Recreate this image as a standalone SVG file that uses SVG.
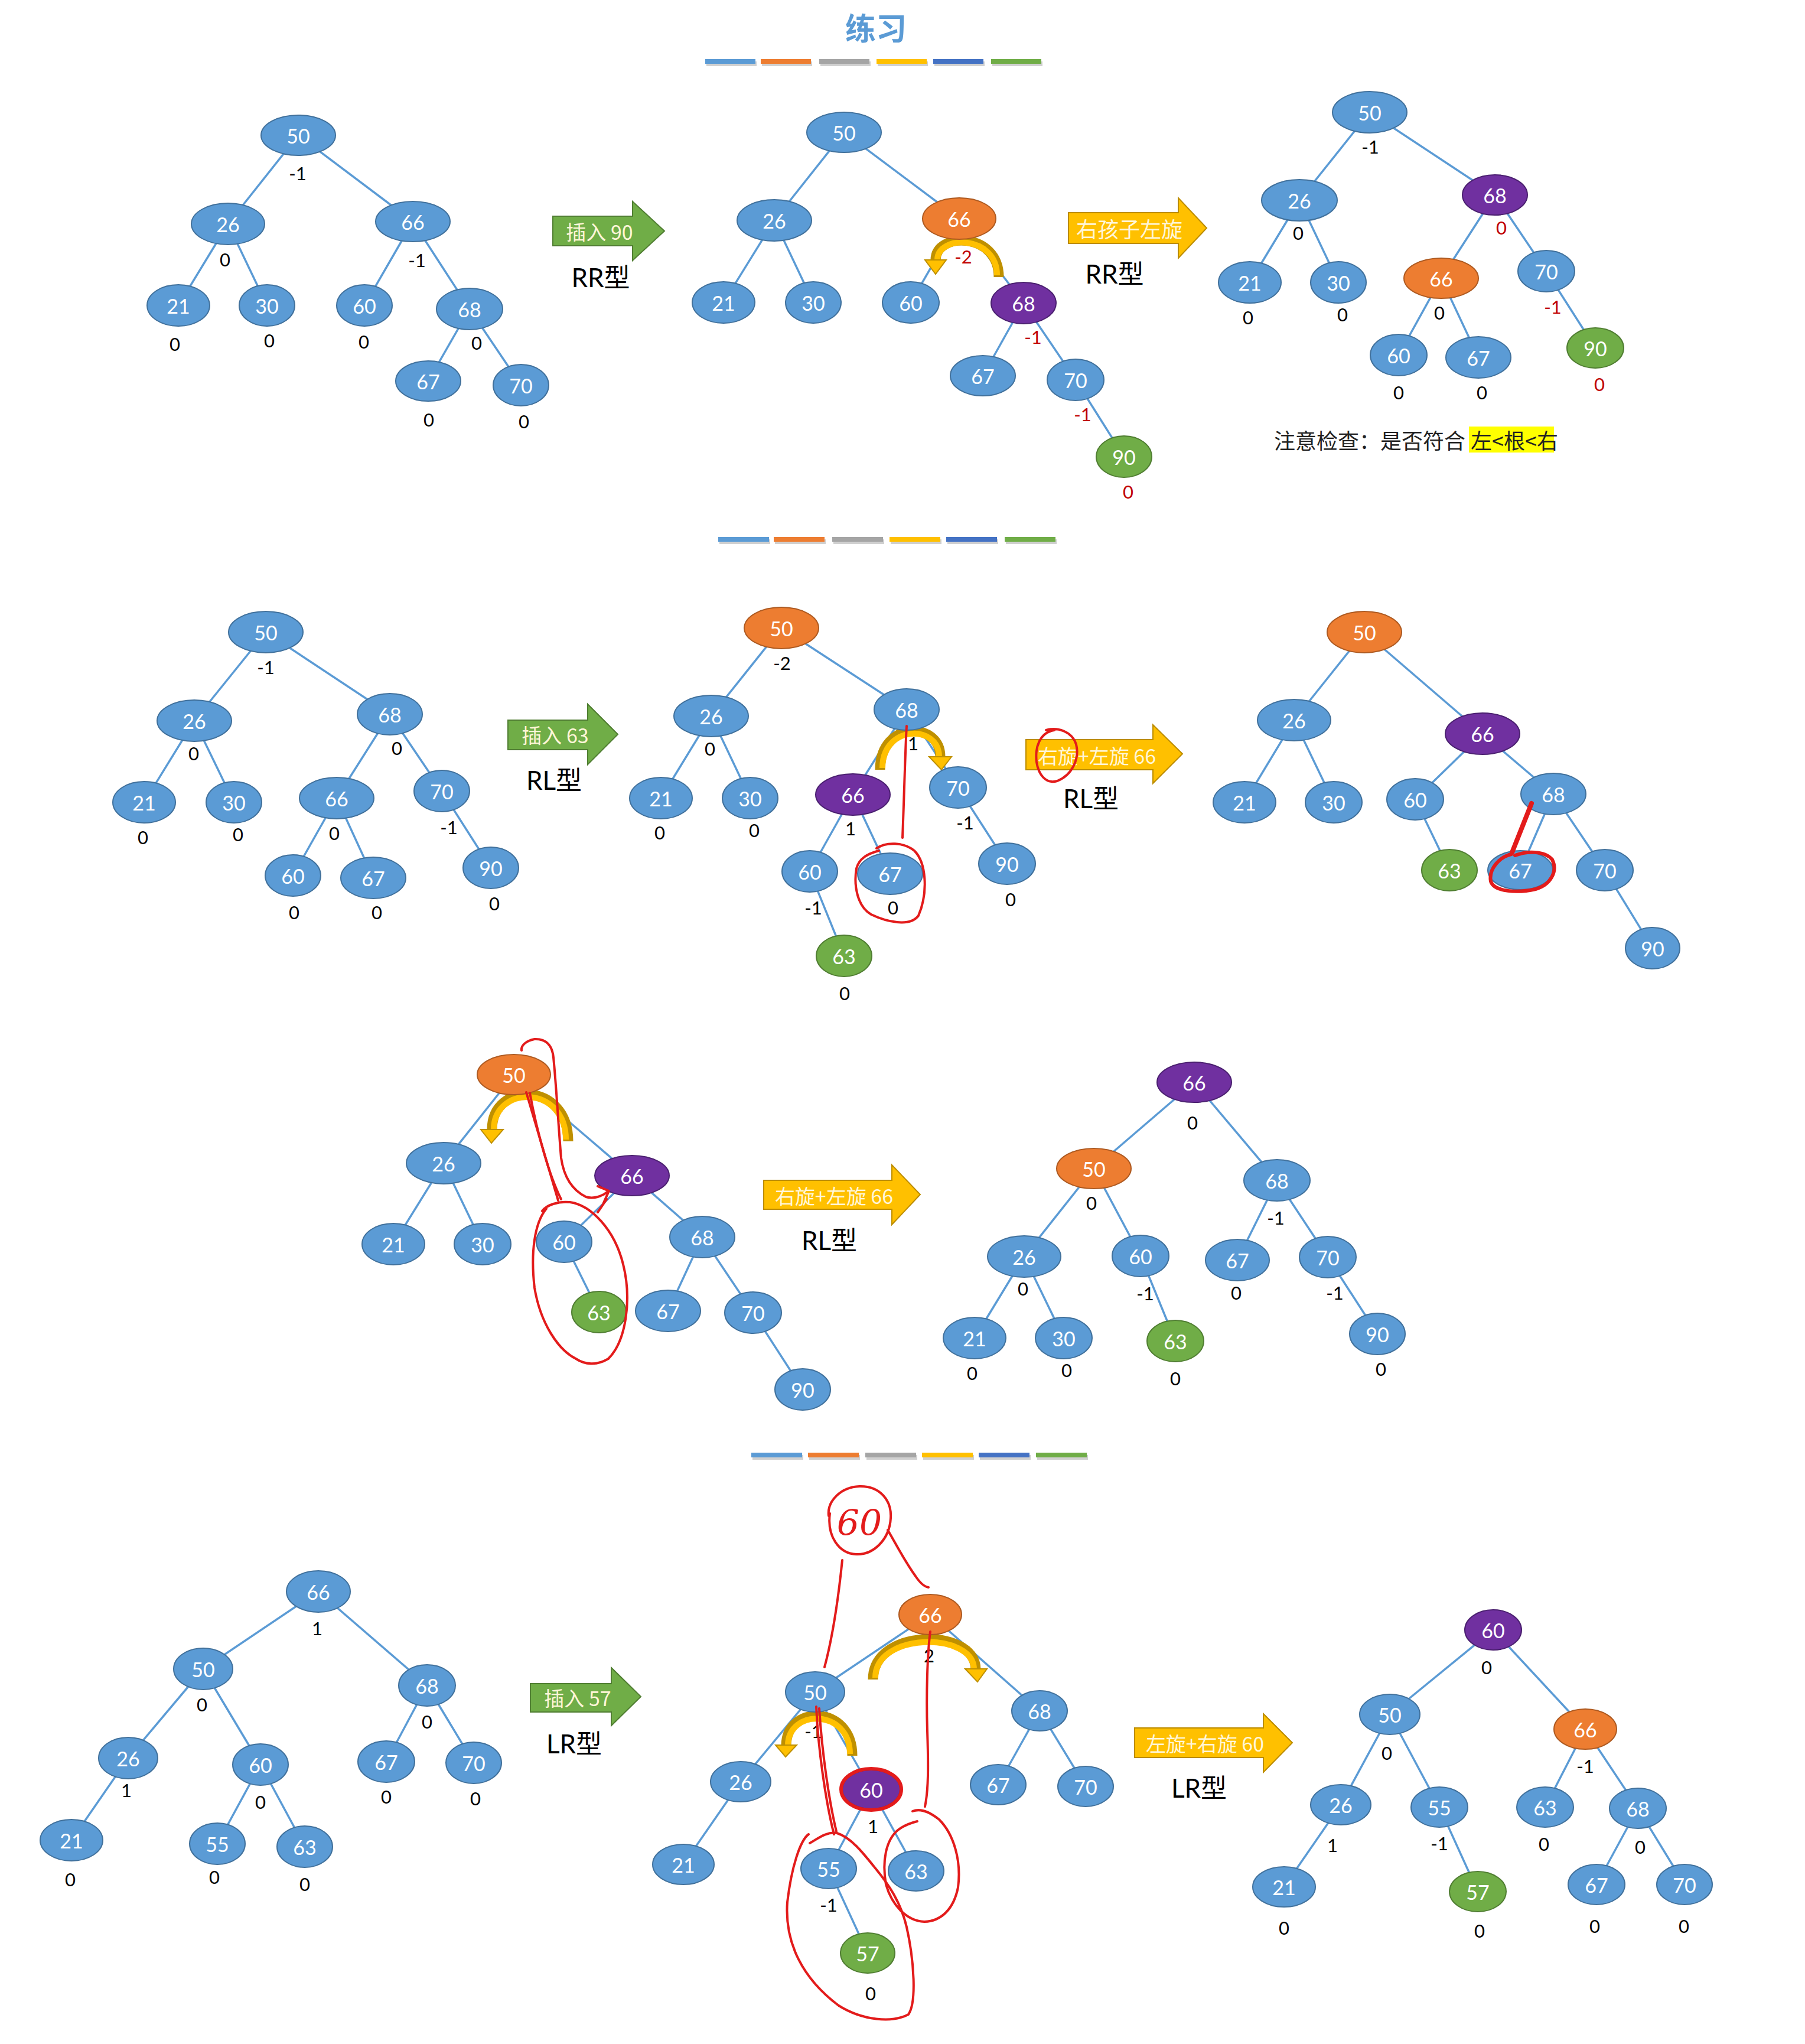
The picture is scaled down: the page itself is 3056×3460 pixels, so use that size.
<svg xmlns="http://www.w3.org/2000/svg" width="3056" height="3460" viewBox="0 0 3056 3460">
<style>
text{font-family:Lato,"Liberation Sans","Noto Sans CJK SC",sans-serif;dominant-baseline:central;text-anchor:middle}
ellipse.b{fill:#5b9bd5;stroke:#41719c;stroke-width:2}
ellipse.o{fill:#ed7d31;stroke:#ae5a21;stroke-width:2}
ellipse.p{fill:#7030a0;stroke:#4b2070;stroke-width:2}
ellipse.g{fill:#70ad47;stroke:#507e32;stroke-width:2}
.nl{fill:#fff;font-size:34px}
.f{fill:#000;font-size:31px}
.r{fill:#c00000}
#edges line{stroke:#5b9bd5;stroke-width:3.5}
.ga{fill:#70ad47;stroke:#507e32;stroke-width:2}
.ya{fill:#ffc000;stroke:#bc8c00;stroke-width:2}
.at{fill:#fff6d8;font-size:34px;font-family:"Noto Sans CJK SC",Lato,sans-serif}
.ty{fill:#000;font-size:44px;font-family:Lato,"Noto Sans CJK SC",sans-serif}
.cd{fill:none;stroke:#bf9000;stroke-width:17}
.cl{fill:none;stroke:#ffc000;stroke-width:10}
.ch{fill:#ffc000;stroke:#bf9000;stroke-width:2}
.red{fill:none;stroke:#e31b1b;stroke-width:4;stroke-linecap:round;stroke-linejoin:round}
</style>
<rect width="3056" height="3460" fill="#fff"/>
<g id="title">
<text x="1483" y="45" style="font-size:52px;fill:#5b9bd5;font-weight:bold;font-family:'Noto Sans CJK SC',sans-serif">练习</text>
</g>
<g id="bars">
<g fill="#d0d0d0"><rect x="1196" y="104" width="85" height="8"/><rect x="1290" y="104" width="85" height="8"/><rect x="1389" y="104" width="85" height="8"/><rect x="1486" y="104" width="85" height="8"/><rect x="1582" y="104" width="85" height="8"/><rect x="1680" y="104" width="85" height="8"/></g>
<rect x="1194" y="100" width="85" height="8" fill="#5b9bd5"/><rect x="1288" y="100" width="85" height="8" fill="#ed7d31"/><rect x="1387" y="100" width="85" height="8" fill="#a5a5a5"/><rect x="1484" y="100" width="85" height="8" fill="#ffc000"/><rect x="1580" y="100" width="85" height="8" fill="#4472c4"/><rect x="1678" y="100" width="85" height="8" fill="#70ad47"/>
<g fill="#d0d0d0"><rect x="1218" y="913" width="86" height="8"/><rect x="1312" y="913" width="86" height="8"/><rect x="1411" y="913" width="86" height="8"/><rect x="1508" y="913" width="86" height="8"/><rect x="1604" y="913" width="86" height="8"/><rect x="1703" y="913" width="86" height="8"/></g>
<rect x="1216" y="909" width="86" height="8" fill="#5b9bd5"/><rect x="1310" y="909" width="86" height="8" fill="#ed7d31"/><rect x="1409" y="909" width="86" height="8" fill="#a5a5a5"/><rect x="1506" y="909" width="86" height="8" fill="#ffc000"/><rect x="1602" y="909" width="86" height="8" fill="#4472c4"/><rect x="1701" y="909" width="86" height="8" fill="#70ad47"/>
<g fill="#d0d0d0"><rect x="1274" y="2463" width="86" height="8"/><rect x="1370" y="2463" width="86" height="8"/><rect x="1467" y="2463" width="86" height="8"/><rect x="1563" y="2463" width="86" height="8"/><rect x="1659" y="2463" width="86" height="8"/><rect x="1756" y="2463" width="86" height="8"/></g>
<rect x="1272" y="2459" width="86" height="8" fill="#5b9bd5"/><rect x="1368" y="2459" width="86" height="8" fill="#ed7d31"/><rect x="1465" y="2459" width="86" height="8" fill="#a5a5a5"/><rect x="1561" y="2459" width="86" height="8" fill="#ffc000"/><rect x="1657" y="2459" width="86" height="8" fill="#4472c4"/><rect x="1754" y="2459" width="86" height="8" fill="#70ad47"/>
</g>
<g id="edges">
<line x1="505" y1="229" x2="386" y2="379"/><line x1="505" y1="229" x2="699" y2="375"/><line x1="386" y1="379" x2="302" y2="517"/><line x1="386" y1="379" x2="452" y2="517"/><line x1="699" y1="375" x2="617" y2="517"/><line x1="699" y1="375" x2="795" y2="523"/><line x1="795" y1="523" x2="725" y2="645"/><line x1="795" y1="523" x2="882" y2="652"/>
<line x1="1429" y1="224" x2="1311" y2="373"/><line x1="1429" y1="224" x2="1624" y2="370"/><line x1="1311" y1="373" x2="1225" y2="512"/><line x1="1311" y1="373" x2="1377" y2="512"/><line x1="1624" y1="370" x2="1542" y2="512"/><line x1="1624" y1="370" x2="1733" y2="513"/><line x1="1733" y1="513" x2="1664" y2="636"/><line x1="1733" y1="513" x2="1821" y2="643"/><line x1="1821" y1="643" x2="1903" y2="773"/>
<line x1="2319" y1="190" x2="2200" y2="339"/><line x1="2319" y1="190" x2="2531" y2="330"/><line x1="2200" y1="339" x2="2116" y2="478"/><line x1="2200" y1="339" x2="2266" y2="478"/><line x1="2531" y1="330" x2="2440" y2="471"/><line x1="2531" y1="330" x2="2618" y2="459"/><line x1="2440" y1="471" x2="2368" y2="601"/><line x1="2440" y1="471" x2="2503" y2="605"/><line x1="2618" y1="459" x2="2701" y2="589"/>
<line x1="450" y1="1070" x2="329" y2="1220"/><line x1="450" y1="1070" x2="660" y2="1209"/><line x1="329" y1="1220" x2="244" y2="1358"/><line x1="329" y1="1220" x2="396" y2="1358"/><line x1="660" y1="1209" x2="570" y2="1351"/><line x1="660" y1="1209" x2="748" y2="1339"/><line x1="570" y1="1351" x2="496" y2="1482"/><line x1="570" y1="1351" x2="632" y2="1486"/><line x1="748" y1="1339" x2="831" y2="1469"/>
<line x1="1323" y1="1063" x2="1204" y2="1212"/><line x1="1323" y1="1063" x2="1535" y2="1201"/><line x1="1204" y1="1212" x2="1119" y2="1351"/><line x1="1204" y1="1212" x2="1270" y2="1351"/><line x1="1535" y1="1201" x2="1444" y2="1345"/><line x1="1535" y1="1201" x2="1622" y2="1333"/><line x1="1444" y1="1345" x2="1371" y2="1475"/><line x1="1444" y1="1345" x2="1507" y2="1479"/><line x1="1622" y1="1333" x2="1705" y2="1462"/><line x1="1371" y1="1475" x2="1429" y2="1618"/>
<line x1="2310" y1="1070" x2="2191" y2="1219"/><line x1="2310" y1="1070" x2="2510" y2="1242"/><line x1="2191" y1="1219" x2="2107" y2="1358"/><line x1="2191" y1="1219" x2="2258" y2="1358"/><line x1="2510" y1="1242" x2="2396" y2="1353"/><line x1="2510" y1="1242" x2="2630" y2="1344"/><line x1="2396" y1="1353" x2="2454" y2="1473"/><line x1="2630" y1="1344" x2="2574" y2="1473"/><line x1="2630" y1="1344" x2="2717" y2="1473"/><line x1="2717" y1="1473" x2="2798" y2="1605"/>
<line x1="870" y1="1819" x2="751" y2="1969"/><line x1="870" y1="1819" x2="1070" y2="1990"/><line x1="751" y1="1969" x2="666" y2="2106"/><line x1="751" y1="1969" x2="817" y2="2106"/><line x1="1070" y1="1990" x2="955" y2="2102"/><line x1="1070" y1="1990" x2="1189" y2="2094"/><line x1="955" y1="2102" x2="1014" y2="2221"/><line x1="1189" y1="2094" x2="1131" y2="2219"/><line x1="1189" y1="2094" x2="1275" y2="2222"/><line x1="1275" y1="2222" x2="1359" y2="2352"/>
<line x1="2022" y1="1832" x2="1852" y2="1978"/><line x1="2022" y1="1832" x2="2162" y2="1998"/><line x1="1852" y1="1978" x2="1734" y2="2127"/><line x1="1852" y1="1978" x2="1931" y2="2126"/><line x1="1734" y1="2127" x2="1650" y2="2265"/><line x1="1734" y1="2127" x2="1801" y2="2265"/><line x1="1931" y1="2126" x2="1990" y2="2270"/><line x1="2162" y1="1998" x2="2095" y2="2133"/><line x1="2162" y1="1998" x2="2248" y2="2128"/><line x1="2248" y1="2128" x2="2332" y2="2258"/>
<line x1="539" y1="2694" x2="344" y2="2825"/><line x1="539" y1="2694" x2="723" y2="2853"/><line x1="344" y1="2825" x2="217" y2="2976"/><line x1="344" y1="2825" x2="441" y2="2987"/><line x1="217" y1="2976" x2="121" y2="3115"/><line x1="441" y1="2987" x2="368" y2="3121"/><line x1="441" y1="2987" x2="516" y2="3126"/><line x1="723" y1="2853" x2="654" y2="2982"/><line x1="723" y1="2853" x2="802" y2="2984"/>
<line x1="1575" y1="2733" x2="1380" y2="2864"/><line x1="1575" y1="2733" x2="1760" y2="2896"/><line x1="1380" y1="2864" x2="1254" y2="3016"/><line x1="1380" y1="2864" x2="1475" y2="3029"/><line x1="1254" y1="3016" x2="1157" y2="3156"/><line x1="1475" y1="3029" x2="1403" y2="3163"/><line x1="1475" y1="3029" x2="1551" y2="3167"/><line x1="1403" y1="3163" x2="1469" y2="3306"/><line x1="1760" y1="2896" x2="1690" y2="3021"/><line x1="1760" y1="2896" x2="1838" y2="3024"/>
<line x1="2528" y1="2759" x2="2353" y2="2902"/><line x1="2528" y1="2759" x2="2684" y2="2927"/><line x1="2353" y1="2902" x2="2270" y2="3055"/><line x1="2353" y1="2902" x2="2437" y2="3059"/><line x1="2270" y1="3055" x2="2174" y2="3194"/><line x1="2437" y1="3059" x2="2502" y2="3202"/><line x1="2684" y1="2927" x2="2616" y2="3059"/><line x1="2684" y1="2927" x2="2773" y2="3061"/><line x1="2773" y1="3061" x2="2703" y2="3190"/><line x1="2773" y1="3061" x2="2852" y2="3190"/>
</g>
<g id="rotation-arrows">
<path class="cd" d="M1691,469 C1691,392 1584,392 1584,440"/><path class="cl" d="M1688,466 C1688,397 1587,397 1587,440"/><polygon class="ch" points="1566,440 1602,440 1584,464"/>
<path class="cd" d="M1490,1303 C1490,1220 1592,1220 1592,1281"/><path class="cl" d="M1494,1300 C1494,1226 1590,1226 1590,1281"/><polygon class="ch" points="1573,1281 1611,1281 1594,1303"/>
<path class="cd" d="M962,1932 C962,1830 833,1830 833,1912"/><path class="cl" d="M958,1929 C958,1836 836,1836 836,1912"/><polygon class="ch" points="814,1912 852,1912 832,1935"/>
<path class="cd" d="M1478,2843 C1478,2755 1652,2755 1652,2826"/><path class="cl" d="M1482,2840 C1482,2762 1649,2762 1649,2826"/><polygon class="ch" points="1634,2825 1671,2825 1655,2847"/>
<path class="cd" d="M1443,2972 C1443,2885 1331,2885 1331,2955"/><path class="cl" d="M1439,2969 C1439,2892 1334,2892 1334,2955"/><polygon class="ch" points="1313,2954 1349,2954 1330,2974"/>
</g>
<g id="t1">
<g id="t1-50"><ellipse class="b" cx="505" cy="229" rx="63" ry="34"/><text class="nl" x="505" y="229">50</text></g>
<g id="t1-26"><ellipse class="b" cx="386" cy="379" rx="62" ry="35"/><text class="nl" x="386" y="379">26</text></g>
<g id="t1-66"><ellipse class="b" cx="699" cy="375" rx="63" ry="34"/><text class="nl" x="699" y="375">66</text></g>
<g id="t1-21"><ellipse class="b" cx="302" cy="517" rx="53" ry="35"/><text class="nl" x="302" y="517">21</text></g>
<g id="t1-30"><ellipse class="b" cx="452" cy="517" rx="47" ry="35"/><text class="nl" x="452" y="517">30</text></g>
<g id="t1-60"><ellipse class="b" cx="617" cy="517" rx="47" ry="35"/><text class="nl" x="617" y="517">60</text></g>
<g id="t1-68"><ellipse class="b" cx="795" cy="523" rx="56" ry="35"/><text class="nl" x="795" y="523">68</text></g>
<g id="t1-67"><ellipse class="b" cx="725" cy="645" rx="55" ry="34"/><text class="nl" x="725" y="645">67</text></g>
<g id="t1-70"><ellipse class="b" cx="882" cy="652" rx="47" ry="35"/><text class="nl" x="882" y="652">70</text></g>
<text class="f" x="504" y="293">-1</text><text class="f" x="381" y="439">0</text><text class="f" x="706" y="440">-1</text><text class="f" x="296" y="582">0</text><text class="f" x="456" y="576">0</text><text class="f" x="616" y="578">0</text><text class="f" x="807" y="580">0</text><text class="f" x="726" y="710">0</text><text class="f" x="887" y="713">0</text>
</g>
<g id="t2">
<g id="t2-50"><ellipse class="b" cx="1429" cy="224" rx="63" ry="34"/><text class="nl" x="1429" y="224">50</text></g>
<g id="t2-26"><ellipse class="b" cx="1311" cy="373" rx="63" ry="35"/><text class="nl" x="1311" y="373">26</text></g>
<g id="t2-66"><ellipse class="o" cx="1624" cy="370" rx="62" ry="35"/><text class="nl" x="1624" y="370">66</text></g>
<g id="t2-21"><ellipse class="b" cx="1225" cy="512" rx="53" ry="35"/><text class="nl" x="1225" y="512">21</text></g>
<g id="t2-30"><ellipse class="b" cx="1377" cy="512" rx="47" ry="35"/><text class="nl" x="1377" y="512">30</text></g>
<g id="t2-60"><ellipse class="b" cx="1542" cy="512" rx="48" ry="35"/><text class="nl" x="1542" y="512">60</text></g>
<g id="t2-68"><ellipse class="p" cx="1733" cy="513" rx="55" ry="35"/><text class="nl" x="1733" y="513">68</text></g>
<g id="t2-67"><ellipse class="b" cx="1664" cy="636" rx="55" ry="34"/><text class="nl" x="1664" y="636">67</text></g>
<g id="t2-70"><ellipse class="b" cx="1821" cy="643" rx="48" ry="35"/><text class="nl" x="1821" y="643">70</text></g>
<g id="t2-90"><ellipse class="g" cx="1903" cy="773" rx="47" ry="35"/><text class="nl" x="1903" y="773">90</text></g>
<text class="f r" x="1631" y="434">-2</text><text class="f r" x="1749" y="570">-1</text><text class="f r" x="1833" y="701">-1</text><text class="f r" x="1910" y="832">0</text>
</g>
<g id="t3">
<g id="t3-50"><ellipse class="b" cx="2319" cy="190" rx="63" ry="35"/><text class="nl" x="2319" y="190">50</text></g>
<g id="t3-26"><ellipse class="b" cx="2200" cy="339" rx="64" ry="35"/><text class="nl" x="2200" y="339">26</text></g>
<g id="t3-68"><ellipse class="p" cx="2531" cy="330" rx="55" ry="34"/><text class="nl" x="2531" y="330">68</text></g>
<g id="t3-21"><ellipse class="b" cx="2116" cy="478" rx="53" ry="35"/><text class="nl" x="2116" y="478">21</text></g>
<g id="t3-30"><ellipse class="b" cx="2266" cy="478" rx="47" ry="35"/><text class="nl" x="2266" y="478">30</text></g>
<g id="t3-66"><ellipse class="o" cx="2440" cy="471" rx="63" ry="34"/><text class="nl" x="2440" y="471">66</text></g>
<g id="t3-70"><ellipse class="b" cx="2618" cy="459" rx="48" ry="35"/><text class="nl" x="2618" y="459">70</text></g>
<g id="t3-60"><ellipse class="b" cx="2368" cy="601" rx="48" ry="35"/><text class="nl" x="2368" y="601">60</text></g>
<g id="t3-67"><ellipse class="b" cx="2503" cy="605" rx="55" ry="35"/><text class="nl" x="2503" y="605">67</text></g>
<g id="t3-90"><ellipse class="g" cx="2701" cy="589" rx="48" ry="34"/><text class="nl" x="2701" y="589">90</text></g>
<text class="f" x="2320" y="248">-1</text><text class="f" x="2198" y="394">0</text><text class="f r" x="2542" y="385">0</text><text class="f" x="2113" y="537">0</text><text class="f" x="2273" y="532">0</text><text class="f" x="2437" y="529">0</text><text class="f r" x="2629" y="519">-1</text><text class="f" x="2368" y="664">0</text><text class="f" x="2509" y="664">0</text><text class="f r" x="2708" y="650">0</text>
</g>
<g id="note">
<rect x="2487" y="722" width="144" height="44" fill="#ffff00"/>
<text x="2157" y="744" style="text-anchor:start;font-size:36px;font-family:'Noto Sans CJK SC',sans-serif;fill:#222">注意检查：是否符合</text>
<text x="2490" y="744" style="text-anchor:start;font-size:36px;font-family:'Noto Sans CJK SC',sans-serif;fill:#222">左&lt;根&lt;右</text>
</g>
<g id="t4">
<g id="t4-50"><ellipse class="b" cx="450" cy="1070" rx="63" ry="35"/><text class="nl" x="450" y="1070">50</text></g>
<g id="t4-26"><ellipse class="b" cx="329" cy="1220" rx="63" ry="35"/><text class="nl" x="329" y="1220">26</text></g>
<g id="t4-68"><ellipse class="b" cx="660" cy="1209" rx="55" ry="35"/><text class="nl" x="660" y="1209">68</text></g>
<g id="t4-21"><ellipse class="b" cx="244" cy="1358" rx="53" ry="35"/><text class="nl" x="244" y="1358">21</text></g>
<g id="t4-30"><ellipse class="b" cx="396" cy="1358" rx="47" ry="35"/><text class="nl" x="396" y="1358">30</text></g>
<g id="t4-66"><ellipse class="b" cx="570" cy="1351" rx="63" ry="35"/><text class="nl" x="570" y="1351">66</text></g>
<g id="t4-70"><ellipse class="b" cx="748" cy="1339" rx="47" ry="35"/><text class="nl" x="748" y="1339">70</text></g>
<g id="t4-60"><ellipse class="b" cx="496" cy="1482" rx="47" ry="35"/><text class="nl" x="496" y="1482">60</text></g>
<g id="t4-67"><ellipse class="b" cx="632" cy="1486" rx="55" ry="35"/><text class="nl" x="632" y="1486">67</text></g>
<g id="t4-90"><ellipse class="b" cx="831" cy="1469" rx="47" ry="35"/><text class="nl" x="831" y="1469">90</text></g>
<text class="f" x="450" y="1129">-1</text><text class="f" x="328" y="1275">0</text><text class="f" x="672" y="1266">0</text><text class="f" x="242" y="1417">0</text><text class="f" x="403" y="1412">0</text><text class="f" x="566" y="1410">0</text><text class="f" x="760" y="1400">-1</text><text class="f" x="498" y="1544">0</text><text class="f" x="638" y="1544">0</text><text class="f" x="837" y="1529">0</text>
</g>
<g id="t5">
<g id="t5-50"><ellipse class="o" cx="1323" cy="1063" rx="63" ry="35"/><text class="nl" x="1323" y="1063">50</text></g>
<g id="t5-26"><ellipse class="b" cx="1204" cy="1212" rx="63" ry="35"/><text class="nl" x="1204" y="1212">26</text></g>
<g id="t5-68"><ellipse class="b" cx="1535" cy="1201" rx="55" ry="35"/><text class="nl" x="1535" y="1201">68</text></g>
<g id="t5-21"><ellipse class="b" cx="1119" cy="1351" rx="53" ry="35"/><text class="nl" x="1119" y="1351">21</text></g>
<g id="t5-30"><ellipse class="b" cx="1270" cy="1351" rx="47" ry="35"/><text class="nl" x="1270" y="1351">30</text></g>
<g id="t5-66"><ellipse class="p" cx="1444" cy="1345" rx="63" ry="35"/><text class="nl" x="1444" y="1345">66</text></g>
<g id="t5-70"><ellipse class="b" cx="1622" cy="1333" rx="48" ry="35"/><text class="nl" x="1622" y="1333">70</text></g>
<g id="t5-60"><ellipse class="b" cx="1371" cy="1475" rx="47" ry="35"/><text class="nl" x="1371" y="1475">60</text></g>
<g id="t5-67"><ellipse class="b" cx="1507" cy="1479" rx="55" ry="35"/><text class="nl" x="1507" y="1479">67</text></g>
<g id="t5-90"><ellipse class="b" cx="1705" cy="1462" rx="48" ry="35"/><text class="nl" x="1705" y="1462">90</text></g>
<g id="t5-63"><ellipse class="g" cx="1429" cy="1618" rx="47" ry="35"/><text class="nl" x="1429" y="1618">63</text></g>
<text class="f" x="1324" y="1122">-2</text><text class="f" x="1202" y="1267">0</text><text class="f" x="1546" y="1258">1</text><text class="f" x="1117" y="1409">0</text><text class="f" x="1277" y="1405">0</text><text class="f" x="1440" y="1402">1</text><text class="f" x="1634" y="1392">-1</text><text class="f" x="1377" y="1536">-1</text><text class="f" x="1512" y="1536">0</text><text class="f" x="1711" y="1522">0</text><text class="f" x="1430" y="1681">0</text>
</g>
<g id="t6">
<g id="t6-50"><ellipse class="o" cx="2310" cy="1070" rx="63" ry="35"/><text class="nl" x="2310" y="1070">50</text></g>
<g id="t6-26"><ellipse class="b" cx="2191" cy="1219" rx="62" ry="35"/><text class="nl" x="2191" y="1219">26</text></g>
<g id="t6-66"><ellipse class="p" cx="2510" cy="1242" rx="63" ry="35"/><text class="nl" x="2510" y="1242">66</text></g>
<g id="t6-21"><ellipse class="b" cx="2107" cy="1358" rx="53" ry="35"/><text class="nl" x="2107" y="1358">21</text></g>
<g id="t6-30"><ellipse class="b" cx="2258" cy="1358" rx="48" ry="35"/><text class="nl" x="2258" y="1358">30</text></g>
<g id="t6-60"><ellipse class="b" cx="2396" cy="1353" rx="48" ry="35"/><text class="nl" x="2396" y="1353">60</text></g>
<g id="t6-68"><ellipse class="b" cx="2630" cy="1344" rx="55" ry="35"/><text class="nl" x="2630" y="1344">68</text></g>
<g id="t6-63"><ellipse class="g" cx="2454" cy="1473" rx="47" ry="35"/><text class="nl" x="2454" y="1473">63</text></g>
<g id="t6-67"><ellipse class="b" cx="2574" cy="1473" rx="55" ry="33"/><text class="nl" x="2574" y="1473">67</text></g>
<g id="t6-70"><ellipse class="b" cx="2717" cy="1473" rx="48" ry="35"/><text class="nl" x="2717" y="1473">70</text></g>
<g id="t6-90"><ellipse class="b" cx="2798" cy="1605" rx="46" ry="35"/><text class="nl" x="2798" y="1605">90</text></g>
</g>
<g id="t7">
<g id="t7-50"><ellipse class="o" cx="870" cy="1819" rx="62" ry="34"/><text class="nl" x="870" y="1819">50</text></g>
<g id="t7-26"><ellipse class="b" cx="751" cy="1969" rx="63" ry="35"/><text class="nl" x="751" y="1969">26</text></g>
<g id="t7-66"><ellipse class="p" cx="1070" cy="1990" rx="63" ry="34"/><text class="nl" x="1070" y="1990">66</text></g>
<g id="t7-21"><ellipse class="b" cx="666" cy="2106" rx="53" ry="35"/><text class="nl" x="666" y="2106">21</text></g>
<g id="t7-30"><ellipse class="b" cx="817" cy="2106" rx="48" ry="35"/><text class="nl" x="817" y="2106">30</text></g>
<g id="t7-60"><ellipse class="b" cx="955" cy="2102" rx="47" ry="35"/><text class="nl" x="955" y="2102">60</text></g>
<g id="t7-68"><ellipse class="b" cx="1189" cy="2094" rx="55" ry="35"/><text class="nl" x="1189" y="2094">68</text></g>
<g id="t7-63"><ellipse class="g" cx="1014" cy="2221" rx="46" ry="35"/><text class="nl" x="1014" y="2221">63</text></g>
<g id="t7-67"><ellipse class="b" cx="1131" cy="2219" rx="55" ry="35"/><text class="nl" x="1131" y="2219">67</text></g>
<g id="t7-70"><ellipse class="b" cx="1275" cy="2222" rx="48" ry="35"/><text class="nl" x="1275" y="2222">70</text></g>
<g id="t7-90"><ellipse class="b" cx="1359" cy="2352" rx="47" ry="35"/><text class="nl" x="1359" y="2352">90</text></g>
</g>
<g id="t8">
<g id="t8-66"><ellipse class="p" cx="2022" cy="1832" rx="63" ry="34"/><text class="nl" x="2022" y="1832">66</text></g>
<g id="t8-50"><ellipse class="o" cx="1852" cy="1978" rx="63" ry="34"/><text class="nl" x="1852" y="1978">50</text></g>
<g id="t8-68"><ellipse class="b" cx="2162" cy="1998" rx="56" ry="35"/><text class="nl" x="2162" y="1998">68</text></g>
<g id="t8-26"><ellipse class="b" cx="1734" cy="2127" rx="62" ry="35"/><text class="nl" x="1734" y="2127">26</text></g>
<g id="t8-60"><ellipse class="b" cx="1931" cy="2126" rx="48" ry="35"/><text class="nl" x="1931" y="2126">60</text></g>
<g id="t8-67"><ellipse class="b" cx="2095" cy="2133" rx="54" ry="35"/><text class="nl" x="2095" y="2133">67</text></g>
<g id="t8-70"><ellipse class="b" cx="2248" cy="2128" rx="48" ry="35"/><text class="nl" x="2248" y="2128">70</text></g>
<g id="t8-21"><ellipse class="b" cx="1650" cy="2265" rx="53" ry="35"/><text class="nl" x="1650" y="2265">21</text></g>
<g id="t8-30"><ellipse class="b" cx="1801" cy="2265" rx="48" ry="35"/><text class="nl" x="1801" y="2265">30</text></g>
<g id="t8-63"><ellipse class="g" cx="1990" cy="2270" rx="48" ry="35"/><text class="nl" x="1990" y="2270">63</text></g>
<g id="t8-90"><ellipse class="b" cx="2332" cy="2258" rx="47" ry="35"/><text class="nl" x="2332" y="2258">90</text></g>
<text class="f" x="2019" y="1900">0</text><text class="f" x="1848" y="2036">0</text><text class="f" x="2160" y="2061">-1</text><text class="f" x="1732" y="2181">0</text><text class="f" x="1939" y="2189">-1</text><text class="f" x="2093" y="2188">0</text><text class="f" x="2260" y="2188">-1</text><text class="f" x="1646" y="2324">0</text><text class="f" x="1806" y="2319">0</text><text class="f" x="1990" y="2333">0</text><text class="f" x="2338" y="2317">0</text>
</g>
<g id="t9">
<g id="t9-66"><ellipse class="b" cx="539" cy="2694" rx="54" ry="35"/><text class="nl" x="539" y="2694">66</text></g>
<g id="t9-50"><ellipse class="b" cx="344" cy="2825" rx="50" ry="35"/><text class="nl" x="344" y="2825">50</text></g>
<g id="t9-68"><ellipse class="b" cx="723" cy="2853" rx="48" ry="35"/><text class="nl" x="723" y="2853">68</text></g>
<g id="t9-26"><ellipse class="b" cx="217" cy="2976" rx="50" ry="35"/><text class="nl" x="217" y="2976">26</text></g>
<g id="t9-60"><ellipse class="b" cx="441" cy="2987" rx="47" ry="35"/><text class="nl" x="441" y="2987">60</text></g>
<g id="t9-67"><ellipse class="b" cx="654" cy="2982" rx="48" ry="35"/><text class="nl" x="654" y="2982">67</text></g>
<g id="t9-70"><ellipse class="b" cx="802" cy="2984" rx="47" ry="35"/><text class="nl" x="802" y="2984">70</text></g>
<g id="t9-21"><ellipse class="b" cx="121" cy="3115" rx="53" ry="35"/><text class="nl" x="121" y="3115">21</text></g>
<g id="t9-55"><ellipse class="b" cx="368" cy="3121" rx="47" ry="35"/><text class="nl" x="368" y="3121">55</text></g>
<g id="t9-63"><ellipse class="b" cx="516" cy="3126" rx="47" ry="35"/><text class="nl" x="516" y="3126">63</text></g>
<text class="f" x="537" y="2756">1</text><text class="f" x="342" y="2885">0</text><text class="f" x="723" y="2914">0</text><text class="f" x="214" y="3030">1</text><text class="f" x="441" y="3050">0</text><text class="f" x="654" y="3041">0</text><text class="f" x="805" y="3044">0</text><text class="f" x="119" y="3181">0</text><text class="f" x="363" y="3177">0</text><text class="f" x="516" y="3189">0</text>
</g>
<g id="t10">
<g id="t10-66"><ellipse class="o" cx="1575" cy="2733" rx="53" ry="34"/><text class="nl" x="1575" y="2733">66</text></g>
<g id="t10-50"><ellipse class="b" cx="1380" cy="2864" rx="50" ry="34"/><text class="nl" x="1380" y="2864">50</text></g>
<g id="t10-68"><ellipse class="b" cx="1760" cy="2896" rx="47" ry="34"/><text class="nl" x="1760" y="2896">68</text></g>
<g id="t10-26"><ellipse class="b" cx="1254" cy="3016" rx="51" ry="34"/><text class="nl" x="1254" y="3016">26</text></g>
<g id="t10-60"><ellipse class="p" cx="1475" cy="3029" rx="49" ry="33"/><text class="nl" x="1475" y="3029">60</text></g>
<g id="t10-67"><ellipse class="b" cx="1690" cy="3021" rx="47" ry="34"/><text class="nl" x="1690" y="3021">67</text></g>
<g id="t10-70"><ellipse class="b" cx="1838" cy="3024" rx="47" ry="34"/><text class="nl" x="1838" y="3024">70</text></g>
<g id="t10-21"><ellipse class="b" cx="1157" cy="3156" rx="52" ry="34"/><text class="nl" x="1157" y="3156">21</text></g>
<g id="t10-55"><ellipse class="b" cx="1403" cy="3163" rx="47" ry="34"/><text class="nl" x="1403" y="3163">55</text></g>
<g id="t10-63"><ellipse class="b" cx="1551" cy="3167" rx="47" ry="34"/><text class="nl" x="1551" y="3167">63</text></g>
<g id="t10-57"><ellipse class="g" cx="1469" cy="3306" rx="46" ry="34"/><text class="nl" x="1469" y="3306">57</text></g>
<text class="f" x="1573" y="2802">2</text><text class="f" x="1377" y="2930">-1</text><text class="f" x="1478" y="3091">1</text><text class="f" x="1403" y="3224">-1</text><text class="f" x="1474" y="3374">0</text>
</g>
<g id="t11">
<g id="t11-60"><ellipse class="p" cx="2528" cy="2759" rx="48" ry="34"/><text class="nl" x="2528" y="2759">60</text></g>
<g id="t11-50"><ellipse class="b" cx="2353" cy="2902" rx="51" ry="34"/><text class="nl" x="2353" y="2902">50</text></g>
<g id="t11-66"><ellipse class="o" cx="2684" cy="2927" rx="53" ry="34"/><text class="nl" x="2684" y="2927">66</text></g>
<g id="t11-26"><ellipse class="b" cx="2270" cy="3055" rx="51" ry="34"/><text class="nl" x="2270" y="3055">26</text></g>
<g id="t11-55"><ellipse class="b" cx="2437" cy="3059" rx="48" ry="34"/><text class="nl" x="2437" y="3059">55</text></g>
<g id="t11-63"><ellipse class="b" cx="2616" cy="3059" rx="48" ry="34"/><text class="nl" x="2616" y="3059">63</text></g>
<g id="t11-68"><ellipse class="b" cx="2773" cy="3061" rx="48" ry="34"/><text class="nl" x="2773" y="3061">68</text></g>
<g id="t11-21"><ellipse class="b" cx="2174" cy="3194" rx="53" ry="34"/><text class="nl" x="2174" y="3194">21</text></g>
<g id="t11-57"><ellipse class="g" cx="2502" cy="3202" rx="48" ry="34"/><text class="nl" x="2502" y="3202">57</text></g>
<g id="t11-67"><ellipse class="b" cx="2703" cy="3190" rx="48" ry="34"/><text class="nl" x="2703" y="3190">67</text></g>
<g id="t11-70"><ellipse class="b" cx="2852" cy="3190" rx="47" ry="34"/><text class="nl" x="2852" y="3190">70</text></g>
<text class="f" x="2517" y="2822">0</text><text class="f" x="2348" y="2967">0</text><text class="f" x="2684" y="2989">-1</text><text class="f" x="2256" y="3123">1</text><text class="f" x="2437" y="3120">-1</text><text class="f" x="2614" y="3121">0</text><text class="f" x="2777" y="3126">0</text><text class="f" x="2174" y="3263">0</text><text class="f" x="2505" y="3268">0</text><text class="f" x="2700" y="3260">0</text><text class="f" x="2851" y="3260">0</text>
</g>
<g id="step-arrows">
<g id="a1"><polygon class="ga" points="936,366 1071,366 1071,341 1125,391 1071,441 1071,416 936,416"/><text class="at" x="1015" y="391">插入 90</text><text class="ty" x="1017" y="469">RR型</text></g>
<g id="a2"><polygon class="ya" points="1809,360 1995,360 1995,335 2043,386 1995,437 1995,412 1809,412"/><text class="at" x="1912" y="386" style="font-size:36px">右孩子左旋</text><text class="ty" x="1887" y="463">RR型</text></g>
<g id="a3"><polygon class="ga" points="860,1219 995,1219 995,1192 1046,1243 995,1294 995,1269 860,1269"/><text class="at" x="940" y="1243">插入 63</text><text class="ty" x="938" y="1320">RL型</text></g>
<g id="a4"><polygon class="ya" points="1737,1252 1952,1252 1952,1227 2002,1276 1952,1326 1952,1303 1737,1303"/><text class="at" x="1857" y="1278">右旋+左旋 66</text><text class="ty" x="1847" y="1351">RL型</text></g>
<g id="a5"><polygon class="ya" points="1293,1998 1510,1998 1510,1972 1558,2022 1510,2073 1510,2047 1293,2047"/><text class="at" x="1412" y="2023">右旋+左旋 66</text><text class="ty" x="1404" y="2099">RL型</text></g>
<g id="a6"><polygon class="ga" points="898,2850 1035,2850 1035,2823 1085,2872 1035,2921 1035,2898 898,2898"/><text class="at" x="978" y="2873">插入 57</text><text class="ty" x="972" y="2951">LR型</text></g>
<g id="a7"><polygon class="ya" points="1921,2925 2139,2925 2139,2901 2188,2950 2139,3000 2139,2975 1921,2975"/><text class="at" x="2040" y="2950">左旋+右旋 60</text><text class="ty" x="2030" y="3026">LR型</text></g>
</g>
<g id="annotations">
<path class="red" d="M1535,1229 C1533,1260 1531,1340 1528,1418"/>
<path class="red" d="M1484,1436 C1500,1425 1530,1425 1548,1440 C1568,1460 1572,1510 1555,1550 C1540,1570 1500,1560 1475,1548 C1452,1535 1445,1500 1450,1470 C1455,1452 1470,1445 1488,1440"/>
<path class="red" d="M1771,1236 C1790,1230 1815,1238 1822,1260 C1828,1285 1815,1312 1790,1322 C1770,1328 1758,1310 1755,1290 C1752,1265 1760,1240 1785,1236"/>
<path class="red" style="stroke-width:8" d="M2593,1360 L2560,1443"/>
<path class="red" style="stroke-width:6" d="M2559,1446 C2540,1450 2520,1470 2524,1492 C2530,1510 2570,1512 2600,1505 C2625,1498 2638,1475 2628,1455 C2615,1440 2585,1440 2565,1448"/>
<path class="red" d="M883,1778 C882,1770 890,1762 905,1759 C925,1758 935,1770 937,1790 C942,1840 945,1900 950,1960 C955,1995 970,2015 992,2026 C1005,2030 1020,2025 1029,2017"/>
<path class="red" d="M1012,2008 L1031,2016 L1022,2036"/>
<path class="red" d="M1012,2052 L1027,2030"/>
<path class="red" d="M891,1849 L945,2032"/>
<path class="red" d="M897,1850 C910,1920 930,1990 950,2030"/>
<path class="red" d="M918,2050 C925,2040 945,2033 965,2035 C1000,2040 1040,2080 1055,2140 C1070,2200 1060,2270 1030,2300 C1010,2312 990,2310 975,2300 C945,2285 915,2240 905,2180 C898,2120 905,2070 925,2046"/>
<path class="red" d="M1403,2566 C1400,2540 1425,2517 1455,2516 C1490,2515 1510,2540 1508,2570 C1506,2605 1480,2632 1450,2631 C1420,2630 1400,2600 1405,2562"/>
<text x="1455" y="2578" style="font-size:60px;fill:#e31b1b;font-style:italic;font-family:'DejaVu Serif',serif">60</text>
<path class="red" d="M1426,2641 C1420,2700 1410,2770 1396,2822"/>
<path class="red" d="M1503,2590 C1515,2610 1530,2640 1550,2668 C1558,2680 1565,2686 1572,2687"/>
<path class="red" d="M1575,2762 C1570,2800 1568,2870 1570,2930 C1572,2990 1572,3030 1566,3058"/>
<path class="red" d="M1545,3066 C1555,3062 1570,3064 1590,3080 C1615,3105 1628,3150 1622,3195 C1615,3230 1595,3252 1565,3253 C1535,3252 1510,3225 1500,3190 C1493,3150 1500,3115 1520,3098 C1530,3090 1545,3085 1553,3083"/>
<ellipse cx="1475" cy="3029" rx="51" ry="35" fill="none" stroke="#e31b1b" stroke-width="6"/>
<path class="red" d="M1382,2889 C1385,2960 1398,3050 1412,3105"/>
<path class="red" d="M1387,2892 C1392,2970 1404,3050 1416,3100"/>
<path class="red" d="M1369,3105 C1355,3115 1340,3160 1333,3220 C1328,3290 1360,3350 1420,3395 C1460,3420 1510,3425 1538,3410 C1552,3390 1548,3320 1535,3262 C1525,3220 1505,3190 1480,3160 C1460,3135 1440,3110 1417,3103 C1400,3100 1385,3112 1371,3120"/>
</g>
</svg>
